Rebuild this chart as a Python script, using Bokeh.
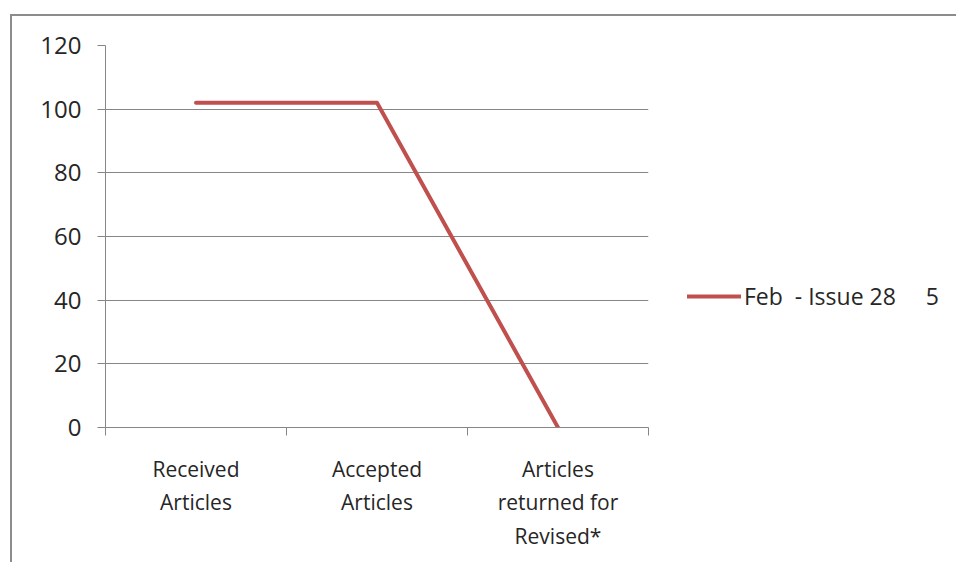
from bokeh.plotting import figure
from bokeh.models import FixedTicker, Legend, LegendItem, Range1d
from bokeh.embed import file_html
from bokeh.resources import INLINE

categories = ["Received\nArticles", "Accepted\nArticles", "Articles\nreturned for\nRevised*"]
values = [102, 102, 0]
series_name = "Feb  - Issue 28     5"
y_ticks = [0, 20, 40, 60, 80, 100, 120]

FONT = "Open Sans"
GRAY = "#868686"
TEXT = "#262626"
RED = "#C0504D"

xs = [i + 0.5 for i in range(len(categories))]

p = figure(width=935, height=546, output_backend="svg", toolbar_location=None,
           x_range=Range1d(0, len(categories)), y_range=Range1d(0, 120),
           min_border_left=93, min_border_top=29, min_border_right=299, min_border_bottom=135,
           frame_width=543, frame_height=382)
p.styles = {"border-left": "2px solid #8c8c8c", "border-top": "2px solid #8c8c8c",
            "border-right": "none", "border-bottom": "none",
            "margin-left": "10px", "margin-top": "14px"}
p.outline_line_color = None
p.background_fill_color = "white"
p.border_fill_color = "white"

r = p.line(xs, values, line_color=RED, line_width=4, line_cap="round", line_join="round")

# x axis
xa = p.xaxis[0]
xa.ticker = FixedTicker(ticks=xs, minor_ticks=list(range(len(categories) + 1)))
xa.major_label_overrides = {x: c for x, c in zip(xs, categories)}
xa.major_tick_line_color = None
xa.major_tick_out = 0
xa.minor_tick_out = 8
xa.minor_tick_in = 0
xa.minor_tick_line_color = GRAY
xa.axis_line_color = GRAY
xa.major_label_standoff = 19
xa.major_label_text_font = FONT
xa.major_label_text_font_size = "21px"
xa.major_label_text_color = TEXT
xa.major_label_text_line_height = 1.2

# y axis
ya = p.yaxis[0]
ya.ticker = FixedTicker(ticks=y_ticks)
ya.minor_tick_line_color = None
ya.major_tick_out = 8
ya.major_tick_in = 0
ya.major_tick_line_color = GRAY
ya.axis_line_color = GRAY
ya.major_label_standoff = 16
ya.major_label_text_font = FONT
ya.major_label_text_font_size = "24px"
ya.major_label_text_color = TEXT

p.xgrid.grid_line_color = None
p.ygrid.grid_line_color = GRAY
p.ygrid.ticker = FixedTicker(ticks=y_ticks)

legend = Legend(items=[LegendItem(label=series_name, renderers=[r])],
                location=(39, 115), padding=0, margin=0, spacing=0,
                glyph_width=54, glyph_height=20, label_height=20, label_standoff=3,
                label_text_font=FONT, label_text_font_size="23px", label_text_color=TEXT,
                border_line_color=None, background_fill_alpha=0)
p.add_layout(legend, "right")

open("out.html", "w").write(file_html(p, INLINE))
